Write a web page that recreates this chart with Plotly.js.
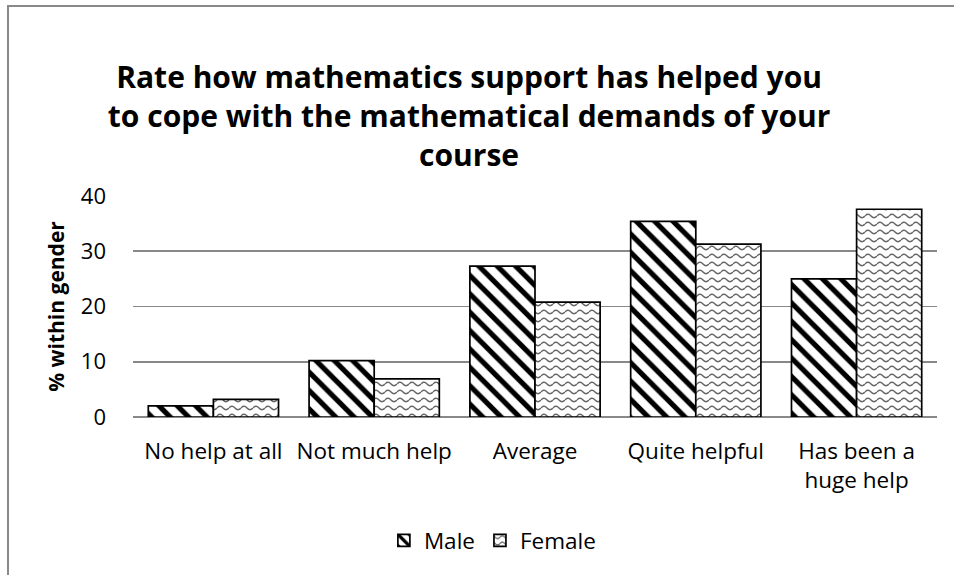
<!DOCTYPE html>
<html>
<head>
<meta charset="utf-8">
<script src="https://cdn.plot.ly/plotly-3.0.1.min.js"></script>
<style>
  html, body { margin: 0; padding: 0; background: #ffffff; }
  #frame {
    position: absolute; left: 7px; top: 5px;
    width: 947px; height: 570px;
    border-top: 2px solid #898989; border-left: 2px solid #898989;
    background: #ffffff;
  }
  #chart { width: 945px; height: 568px; }
</style>
</head>
<body>
<div id="frame"><div id="chart"></div></div>
<script>
// Survey responses, percentage within each gender
const categories = ["No help at all", "Not much help", "Average", "Quite helpful", "Has been a<br>huge help"];
const maleValues = [2.0, 10.2, 27.3, 35.4, 25.0];
const femaleValues = [3.2, 6.9, 20.8, 31.3, 37.6];
const seriesNames = ["Male", "Female"];
const yTicks = [0, 10, 20, 30, 40];

const FONT = "Open Sans, Liberation Sans, sans-serif";
const WAVE_GREY = "#666666";

const male = {
  type: "bar", name: seriesNames[0], x: categories, y: maleValues,
  marker: {
    color: "#ffffff",
    line: { color: "#000000", width: 1.7 },
    pattern: { shape: "\\", fgcolor: "#000000", bgcolor: "#ffffff", size: 13, solidity: 0.4, fillmode: "replace" }
  },
  hoverinfo: "skip"
};
const female = {
  type: "bar", name: seriesNames[1], x: categories, y: femaleValues,
  marker: {
    color: "#ffffff",
    line: { color: "#000000", width: 1.7 },
    pattern: { shape: "-", fgcolor: WAVE_GREY, bgcolor: "#ffffff", size: 8, solidity: 0.2, fillmode: "replace" }
  },
  hoverinfo: "skip"
};

const layout = {
  width: 945, height: 568,
  margin: { l: 124, r: 17, t: 189, b: 150 },
  paper_bgcolor: "#ffffff", plot_bgcolor: "#ffffff",
  font: { family: FONT, size: 22.5, color: "#000000" },
  title: {
    text: "<b>Rate how mathematics support has helped you<br>to cope with the mathematical demands of your<br>course</b>",
    font: { family: FONT, size: 30, color: "#000000" },
    x: 0.418, xanchor: "center", xref: "paper",
    y: 0.857, yanchor: "middle", yref: "container"
  },
  barmode: "group",
  bargap: 0.19, bargroupgap: 0,
  xaxis: {
    type: "category",
    showline: false, showgrid: false, ticks: "",
    tickfont: { family: FONT, size: 22.5, color: "#000000" },
    tickangle: 0,
    ticklabelstandoff: 18
  },
  yaxis: {
    range: [0, 40], tickvals: yTicks, ticktext: yTicks.map(String),
    showgrid: true, gridcolor: "#888888", gridwidth: 1.6,
    zeroline: true, zerolinecolor: "#888888", zerolinewidth: 1.6,
    showline: false, ticks: "",
    tickfont: { family: FONT, size: 22, color: "#000000" },
    ticklabelstandoff: 26,
    title: { text: "<b>% within gender</b>", font: { family: FONT, size: 21, color: "#000000" }, standoff: 10 }
  },
  legend: {
    orientation: "h", x: 0.447, xanchor: "center", y: -0.56, yanchor: "middle",
    font: { family: FONT, size: 22.5, color: "#000000" },
    itemwidth: 30, traceorder: "normal"
  },
  showlegend: true
};

// Turn the plain horizontal hatch of the Female series into a wavy hatch
function waveHatch(gd) {
  gd.querySelectorAll("pattern").forEach(function (pat) {
    const path = pat.querySelector("path");
    if (!path) return;
    const stroke = (path.getAttribute("stroke") || path.style.stroke || "").replace(/\s/g, "").toLowerCase();
    if (stroke !== "rgb(102,102,102)" && stroke !== WAVE_GREY) return;
    pat.setAttribute("width", "12");
    pat.setAttribute("height", "8");
    const bg = pat.querySelector("rect");
    if (bg) { bg.setAttribute("width", "12"); bg.setAttribute("height", "8"); }
    path.setAttribute("d", "M0,4 Q3,0.6 6,4 T12,4");
    path.setAttribute("fill", "none");
    path.style.fill = "none";
    path.style.strokeWidth = "1.5";
    path.setAttribute("stroke-width", "1.5");
  });
}

Plotly.newPlot("chart", [male, female], layout, { staticPlot: true, displayModeBar: false })
  .then(function (gd) { waveHatch(gd); });
</script>
</body>
</html>
